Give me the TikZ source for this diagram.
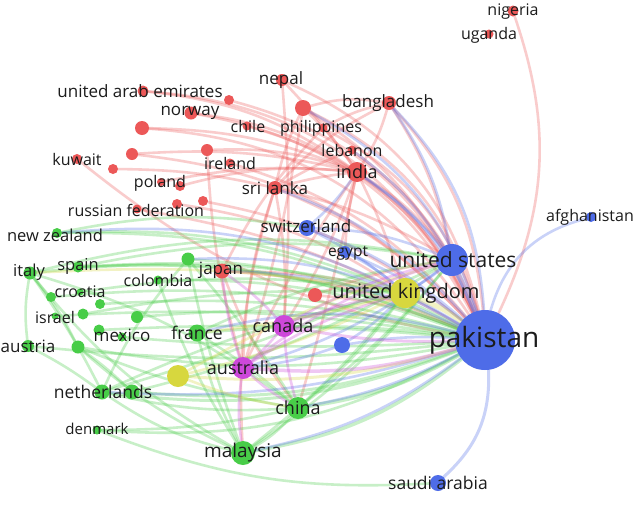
\documentclass[tikz,border=0pt]{standalone}
\usepackage{fontspec}
\setmainfont{Open Sans}
\pgfdeclarelayer{back}
\pgfdeclarelayer{bg}
\pgfsetlayers{back,bg,main}
\definecolor{cR}{RGB}{236,88,88}
\definecolor{cG}{RGB}{72,205,72}
\definecolor{cB}{RGB}{78,108,232}
\definecolor{cY}{RGB}{215,215,62}
\definecolor{cM}{RGB}{205,72,218}
\definecolor{txt}{RGB}{28,28,28}
\tikzset{
  dot/.style={circle, inner sep=0pt, draw=none, minimum size=#1},
  rn/.style={dot=#1, fill=cR},
  gn/.style={dot=#1, fill=cG},
  bn/.style={dot=#1, fill=cB},
  yn/.style={dot=#1, fill=cY},
  mn/.style={dot=#1, fill=cM},
  lb/.style={text=txt, inner sep=0pt, font=\fontsize{#1}{#1}\selectfont},
  lb/.default=16.5,
  lk/.style={line width=#1, opacity=0.3, line cap=round},
  eR/.style={lk=#1, draw=cR}, eR/.default=2.6,
  eG/.style={lk=#1, draw=cG}, eG/.default=2.6,
  eB/.style={lk=#1, draw=cB}, eB/.default=2.6,
  eY/.style={lk=#1, draw=cY}, eY/.default=2.6,
  eM/.style={lk=#1, draw=cM}, eM/.default=2.6,
}
\begin{document}
\begin{tikzpicture}[x=1pt,y=-1pt]
\useasboundingbox (0,0) rectangle (634,504);
\begin{pgfonlayer}{back}
\fill[white] (0,0) rectangle (634,504);
\end{pgfonlayer}
% ---------- nodes: red cluster
\node[rn=11] (nig) at (513,11) {};
\node[rn=9]  (uga) at (489,34) {};
\node[rn=14] (ban) at (389,103) {};
\node[rn=12] (nep) at (282,80) {};
\node[rn=16] (r1)  at (303,108) {};
\node[rn=9]  (phi) at (323,128) {};
\node[rn=9]  (leb) at (352,150) {};
\node[rn=20] (ind) at (357,172) {};
\node[rn=9]  (chl) at (247,126) {};
\node[rn=11] (uae) at (143,91) {};
\node[rn=10] (r2)  at (229,100) {};
\node[rn=13] (nor) at (191,113) {};
\node[rn=14] (r3)  at (142,128) {};
\node[rn=10] (kuw) at (77,159) {};
\node[rn=12] (r4)  at (132,154) {};
\node[rn=12] (r5)  at (207,150) {};
\node[rn=9]  (ire) at (230,163) {};
\node[rn=10] (r6)  at (113,169) {};
\node[rn=8]  (pol) at (161,182) {};
\node[rn=10] (r7)  at (180,186) {};
\node[rn=9]  (rus) at (137,209) {};
\node[rn=10] (r8)  at (177,204) {};
\node[rn=10] (r9)  at (203,201) {};
\node[rn=14] (sri) at (275,188) {};
\node[rn=15] (jap) at (222,271) {};
\node[rn=14] (r10) at (315,295) {};
% green cluster
\node[gn=10] (nzl) at (57,233) {};
\node[gn=13] (ita) at (30,273) {};
\node[gn=11] (spa) at (78,267) {};
\node[gn=9]  (col) at (158,280) {};
\node[gn=13] (g1)  at (188,259) {};
\node[gn=7]  (cro) at (80,292) {};
\node[gn=10] (g2)  at (51,297) {};
\node[gn=10] (g3)  at (100,304) {};
\node[gn=7]  (isr) at (55,316) {};
\node[gn=11] (g4)  at (83,314) {};
\node[gn=12] (g5)  at (137,317) {};
\node[gn=9]  (mex) at (122,337) {};
\node[gn=11] (g6)  at (99,330) {};
\node[gn=12] (aut) at (28,346) {};
\node[gn=13] (g7)  at (78,347) {};
\node[gn=17] (fra) at (197,333) {};
\node[gn=15] (net) at (102,392) {};
\node[gn=15] (g8)  at (132,392) {};
\node[gn=9]  (den) at (97,430) {};
\node[gn=24] (mal) at (243,453) {};
\node[gn=22] (chn) at (298,408) {};
% blue cluster
\node[bn=16] (swi) at (307,228) {};
\node[bn=12] (egy) at (345,252) {};
\node[bn=32] (usa) at (452,260) {};
\node[bn=60] (pak) at (485,340) {};
\node[bn=16] (b1)  at (342,345) {};
\node[bn=16] (sau) at (438,483) {};
\node[bn=10] (afg) at (591,217) {};
% yellow and magenta
\node[yn=30] (uk)  at (405,293) {};
\node[yn=22] (y1)  at (178,376) {};
\node[mn=22] (can) at (284,326) {};
\node[mn=22] (aul) at (243,368) {};
% ---------- links
\begin{pgfonlayer}{bg}
% red
\draw[eR] (nig) to[bend left=22] (pak);
\draw[eR] (ban) to[bend left=18] (pak);
\draw[eR] (ban) to[bend left=8] (ind);
\draw[eR] (ban) to[bend right=12] (r1);
\draw[eR] (ban) to[bend left=10] (usa);
\draw[eR] (ban) to[bend right=10] (sri);
\draw[eR] (ban) to[bend right=8] (phi);
\draw[eR=3.2] (ind) to[bend left=14] (pak);
\draw[eR] (ind) to[bend left=4] (uk);
\draw[eR] (ind) to[bend left=10] (usa);
\draw[eR] (ind) to[bend right=4] (sri);
\draw[eR] (ind) to[bend right=6] (r1);
\draw[eR] (ind) to[bend left=6] (can);
\draw[eR] (ind) to[bend right=5] (egy);
\draw[eR] (ind) to[bend left=2] (chn);
\draw[eR] (ind) to[bend right=4] (aul);
\draw[eR] (nep) to[bend left=4] (ind);
\draw[eR] (nep) to[bend left=26] (pak);
\draw[eR] (nep) to[bend left=4] (can);
\draw[eR] (r1) to[bend left=24] (pak);
\draw[eR] (r1) to[bend right=6] (sri);
\draw[eR] (r1) to[bend left=4] (aul);
\draw[eR] (r1) to[bend left=12] (usa);
\draw[eR] (phi) to[bend left=22] (pak);
\draw[eR] (phi) to[bend right=8] (jap);
\draw[eR] (leb) to[bend left=16] (pak);
\draw[eR] (leb) to[bend right=4] (sri);
\draw[eR] (uae) to[bend left=30] (pak);
\draw[eR] (uae) to[bend left=14] (ind);
\draw[eR] (r2) to[bend left=26] (pak);
\draw[eR] (nor) to[bend left=26] (pak);
\draw[eR] (nor) to[bend left=12] (ind);
\draw[eR] (r3) to[bend left=26] (pak);
\draw[eR] (r3) to[bend left=10] (ind);
\draw[eR] (chl) to[bend left=24] (pak);
\draw[eR] (r4) to[bend left=20] (pak);
\draw[eR] (r4) to[bend left=8] (ind);
\draw[eR] (r5) to[bend left=10] (ind);
\draw[eR] (r5) to[bend right=6] (aul);
\draw[eR] (ire) to[bend left=16] (pak);
\draw[eR] (kuw) to[bend right=14] (pak);
\draw[eR] (r6) to[bend left=6] (sri);
\draw[eR] (pol) to[bend left=8] (ind);
\draw[eR] (r7) to[bend left=10] (ind);
\draw[eR] (rus) to[bend left=10] (pak);
\draw[eR] (r8) to[bend left=12] (uk);
\draw[eR] (r9) to[bend left=14] (pak);
\draw[eR] (sri) to[bend left=12] (pak);
\draw[eR] (sri) to[bend left=6] (can);
\draw[eR] (sri) to[bend right=8] (aul);
\draw[eR] (sri) to[bend right=10] (mal);
\draw[eR] (sri) to[bend left=8] (usa);
\draw[eR] (jap) to[bend left=10] (pak);
\draw[eR] (jap) to[bend left=6] (uk);
\draw[eR] (jap) to[bend right=8] (chn);
\draw[eR] (r10) to[bend left=8] (pak);
\draw[eR] (r10) to[bend left=6] (usa);
% green
\draw[eG] (nzl) to[bend left=14] (pak);
\draw[eG] (nzl) to[bend left=12] (uk);
\draw[eG] (nzl) to[bend left=10] (swi);
\draw[eG=3] (ita) to[bend left=14] (pak);
\draw[eG] (ita) to[bend left=4] (net);
\draw[eG] (ita) to[bend left=6] (g7);
\draw[eG] (ita) to[bend right=8] (aut);
\draw[eG] (ita) to[bend right=10] (mal);
\draw[eG] (ita) to[bend left=10] (chn);
\draw[eG] (ita) to[bend left=12] (usa);
\draw[eG] (spa) to[bend left=12] (pak);
\draw[eG] (spa) to[bend left=10] (usa);
\draw[eG] (spa) to[bend left=8] (uk);
\draw[eG] (col) to[bend left=10] (pak);
\draw[eG] (col) to[bend right=6] (mal);
\draw[eG] (g1) to[bend left=10] (pak);
\draw[eG] (g1) to[bend right=4] (mal);
\draw[eG] (g1) to[bend right=8] (net);
\draw[eG] (g1) to[bend left=4] (chn);
\draw[eG] (cro) to[bend left=8] (uk);
\draw[eG] (g2) to[bend left=10] (pak);
\draw[eG] (g3) to[bend left=8] (pak);
\draw[eG] (g4) to[bend left=6] (uk);
\draw[eG] (isr) to[bend left=6] (pak);
\draw[eG] (g5) to[bend left=8] (pak);
\draw[eG] (g6) to[bend left=4] (pak);
\draw[eG] (mex) to[bend right=4] (pak);
\draw[eG] (aut) to[bend right=6] (pak);
\draw[eG] (aut) to[bend left=4] (net);
\draw[eG] (g7) to[bend right=10] (pak);
\draw[eG] (g7) to[bend left=4] (g8);
\draw[eG] (g7) to[bend right=8] (mal);
\draw[eG] (g7) to[bend right=6] (chn);
\draw[eG=3] (fra) to[bend left=6] (pak);
\draw[eG] (fra) to[bend right=6] (mal);
\draw[eG] (fra) to[bend left=4] (chn);
\draw[eG] (fra) to[bend left=8] (usa);
\draw[eG=3] (net) to[bend right=14] (pak);
\draw[eG] (net) to[bend right=8] (chn);
\draw[eG] (net) to[bend right=10] (mal);
\draw[eG] (net) to[bend left=6] (uk);
\draw[eG] (net) to[bend right=4] (usa);
\draw[eG=3] (g8) to[bend right=12] (pak);
\draw[eG] (g8) to[bend right=8] (usa);
\draw[eG] (den) to[bend right=16] (pak);
\draw[eG] (den) to[bend right=12] (sau);
\draw[eG] (den) to[bend right=6] (chn);
\draw[eG=3.5] (mal) to[bend right=14] (pak);
\draw[eG] (mal) to[bend right=8] (usa);
\draw[eG] (mal) to[bend right=10] (chn);
\draw[eG] (mal) to[bend right=6] (uk);
\draw[eG=4] (chn) to[bend right=10] (pak);
\draw[eG] (chn) to[bend right=6] (uk);
\draw[eG] (chn) to[bend right=6] (usa);
% blue
\draw[eB=5] (pak) to[bend right=2] (usa);
\draw[eB=3] (pak) to[bend left=25] (sau);
\draw[eB] (pak) to[bend left=30] (afg);
\draw[eB=3] (pak) to[bend right=10] (swi);
\draw[eB] (pak) to[bend right=8] (egy);
\draw[eB] (pak) to[bend right=6] (b1);
\draw[eB] (pak) to[bend right=14] (fra);
\draw[eB] (pak) to[bend right=16] (g1);
\draw[eB] (pak) to[bend right=12] (jap);
\draw[eB] (pak) to[bend right=18] (nzl);
\draw[eB] (pak) to[bend left=10] (net);
\draw[eB] (pak) to[bend right=20] (ban);
\draw[eB] (pak) to[bend right=16] (ind);
\draw[eB] (pak) to[bend right=22] (r1);
\draw[eB] (pak) to[bend right=14] (sri);
\draw[eB] (pak) to[bend left=12] (mal);
\draw[eB] (pak) to[bend left=8] (chn);
\draw[eB] (usa) to[bend right=10] (swi);
\draw[eB] (usa) to[bend right=8] (ind);
\draw[eB] (usa) to[bend left=4] (uk);
\draw[eB] (usa) to[bend right=12] (ban);
\draw[eB] (usa) to[bend left=10] (aul);
\draw[eB] (usa) to[bend right=10] (leb);
\draw[eB] (swi) to[bend left=6] (uk);
\draw[eB] (swi) to[bend right=6] (ind);
\draw[eB] (egy) to[bend left=6] (uk);
\draw[eB] (b1) to[bend right=6] (uk);
\draw[eB] (b1) to[bend left=6] (aul);
% yellow
\draw[eY=5] (uk) to[bend left=8] (pak);
\draw[eY] (uk) to[bend left=6] (y1);
\draw[eY] (uk) to[bend left=4] (fra);
\draw[eY] (uk) to[bend right=6] (ita);
\draw[eY=3] (y1) to[bend right=10] (pak);
\draw[eY] (y1) to[bend right=6] (chn);
\draw[eY] (y1) to[bend left=6] (usa);
% magenta
\draw[eM=3.5] (aul) to[bend right=10] (pak);
\draw[eM=3] (can) to[bend right=6] (pak);
\draw[eM] (can) to[bend left=4] (aul);
\draw[eM] (can) to[bend right=6] (jap);
\draw[eM] (can) to[bend left=6] (uk);
\draw[eM] (aul) to[bend right=8] (mal);
\draw[eM] (aul) to[bend right=6] (chn);
\draw[eM] (aul) to[bend left=6] (jap);
\draw[eM] (aul) to[bend left=8] (uk);
\draw[eM] (aul) to[bend left=10] (usa);
\draw[eM] (can) to[bend right=6] (chn);
\draw[eM] (can) to[bend left=8] (usa);
\end{pgfonlayer}
% ---------- labels
\node[lb=16] (nig-l) at (513,12) {nigeria};
\node[lb=16] (uga-l) at (489,35) {uganda};
\node[lb=17] (ban-l) at (388,103) {bangladesh};
\node[lb=17] (nep-l) at (281,80) {nepal};
\node[lb=16] (phi-l) at (321,128) {philippines};
\node[lb=16] (leb-l) at (352,150) {lebanon};
\node[lb=18] (ind-l) at (357,172) {india};
\node[lb=16] (chl-l) at (248,126) {chile};
\node[lb=17] (uae-l) at (140,91) {united arab emirates};
\node[lb=17] (nor-l) at (190,113) {norway};
\node[lb=16] (kuw-l) at (77,159) {kuwait};
\node[lb=16] (ire-l) at (230,163) {ireland};
\node[lb=16] (pol-l) at (160,183) {poland};
\node[lb=16] (rus-l) at (136,210) {russian federation};
\node[lb=17] (sri-l) at (275,188) {sri lanka};
\node[lb=16.5] (nzl-l) at (55,235) {new zealand};
\node[lb=17] (swi-l) at (306,226) {switzerland};
\node[lb=16.5] (ita-l) at (29,272) {italy};
\node[lb=16.5] (spa-l) at (78,266) {spain};
\node[lb=16] (col-l) at (158,280) {colombia};
\node[lb=17] (jap-l) at (221,270) {japan};
\node[lb=16] (cro-l) at (80,292) {croatia};
\node[lb=16] (isr-l) at (55,317) {israel};
\node[lb=17] (mex-l) at (122,335) {mexico};
\node[lb=17] (aut-l) at (28,346) {austria};
\node[lb=17.5] (fra-l) at (197,333) {france};
\node[lb=17.5] (net-l) at (103,392) {netherlands};
\node[lb=15] (den-l) at (97,429) {denmark};
\node[lb=19] (mal-l) at (243,453) {malaysia};
\node[lb=18] (can-l) at (283,326) {canada};
\node[lb=18] (aul-l) at (243,368) {australia};
\node[lb=18] (chn-l) at (298,408) {china};
\node[lb=15.5] (egy-l) at (348,253) {egypt};
\node[lb=21] (usa-l) at (453,260) {united states};
\node[lb=20] (uk-l)  at (406,293) {united kingdom};
\node[lb=28] (pak-l) at (484,340) {pakistan};
\node[lb=17.5] (sau-l) at (438,483) {saudi arabia};
\node[lb=16] (afg-l) at (590,217) {afghanistan};
\end{tikzpicture}
\end{document}
